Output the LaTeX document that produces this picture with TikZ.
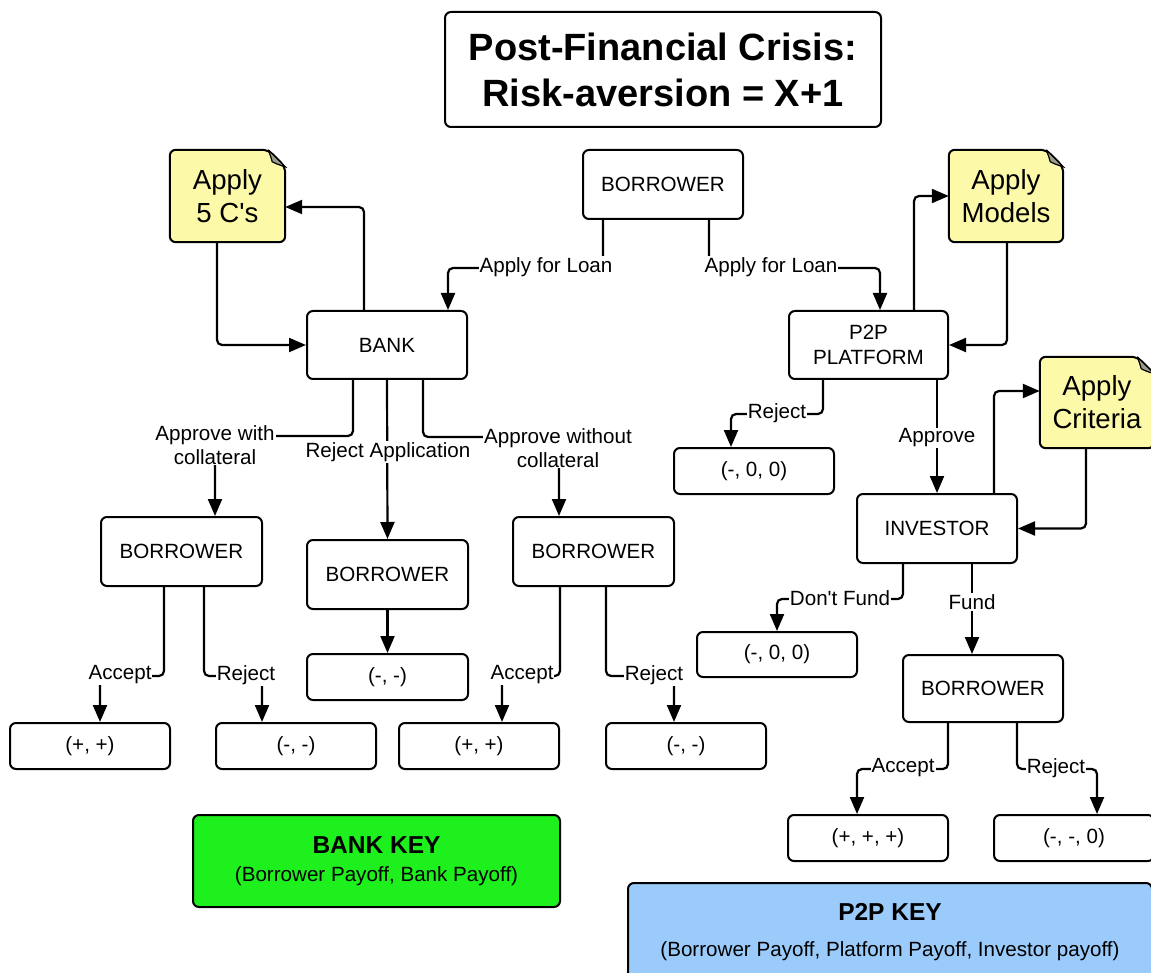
\documentclass[tikz,border=0pt]{standalone}
\usepackage{fontspec}
\setmainfont{Liberation Sans}
\usetikzlibrary{arrows.meta,backgrounds}

\definecolor{noteyellow}{HTML}{FCF9A8}
\definecolor{foldgray}{HTML}{9C9C8C}
\definecolor{keygreen}{HTML}{1EF01E}
\definecolor{keyblue}{HTML}{9BCBFA}

\newcommand\sq{\XeTeXglyph\XeTeXglyphindex "quotesingle"\relax}

\tikzset{
  base/.style={draw, line width=2pt, rounded corners=6pt, fill=white, align=center,
    inner sep=0pt, font=\fontsize{20.6}{24.5}\selectfont},
  boxL/.style={base, minimum width=160pt, minimum height=69pt},
  outc/.style={base, minimum width=160pt, minimum height=46pt},
  conn/.style={line width=2.2pt, rounded corners=5pt, -{Triangle[length=17pt,width=14pt]}},
  lbl/.style={fill=white, inner sep=1pt, align=center, font=\fontsize{20.6}{23.5}\selectfont},
  note/.style={minimum width=115pt, minimum height=92pt, inner sep=0pt, align=center,
    font=\fontsize{27.6}{33}\selectfont},
  notebody/.style={fill=noteyellow, line width=2pt, rounded corners=6pt},
  notefold/.style={fill=foldgray, line width=1.2pt},
}

\newcommand\drawnote[1]{%
  \filldraw[notebody] (#1.south west) -- (#1.north west) -- ([xshift=-17pt]#1.north east)
    -- ([yshift=-17pt]#1.north east) -- (#1.south east) -- cycle;
  \filldraw[notefold] ([xshift=-17pt]#1.north east) -- ([yshift=-17pt]#1.north east)
    .. controls ([xshift=-9pt,yshift=-14pt]#1.north east) .. ([xshift=-13pt,yshift=-12pt]#1.north east)
    .. controls ([xshift=-14pt,yshift=-8pt]#1.north east) .. ([xshift=-17pt]#1.north east);
}

\begin{document}
\begin{tikzpicture}[x=1pt,y=-1pt]
\useasboundingbox (0,0) rectangle (1151,973);

% title
\node[base, minimum width=436pt, minimum height=115pt,
  font=\fontsize{38}{46}\selectfont\bfseries] (title) at (663,69.5)
  {Post-Financial Crisis:\\Risk-aversion = X+1};

% main nodes
\node[boxL] (top) at (663,184.5) {BORROWER};
\node[boxL, minimum height=68pt] (bank) at (387,345) {BANK};
\node[boxL, minimum width=159pt, minimum height=68pt] (p2p) at (868.5,345) {P2P\\PLATFORM};

\node[note] (c5) at (227.5,196) {Apply\\5 C\sq s};
\node[note, minimum width=114pt] (models) at (1006,196) {Apply\\Models};
\node[note, minimum width=114pt, minimum height=91pt] (crit) at (1097,402.5) {Apply\\Criteria};
\begin{scope}[on background layer]
  \drawnote{c5}
  \drawnote{models}
  \drawnote{crit}
\end{scope}

\node[boxL, minimum width=161pt] (b1) at (181.5,551.5) {BORROWER};
\node[boxL, minimum width=161pt] (b2) at (387.5,574.5) {BORROWER};
\node[boxL, minimum width=161pt] (b3) at (593.5,551.5) {BORROWER};

\node[outc] (o1) at (90,746) {(+, +)};
\node[outc] (o2) at (296,746) {(-, -)};
\node[outc, minimum width=161pt] (o3) at (387.5,677) {(-, -)};
\node[outc] (o4) at (479,746) {(+, +)};
\node[outc] (o5) at (686,746) {(-, -)};

\node[outc] (pr) at (754,471) {(-, 0, 0)};
\node[boxL] (inv) at (937,528.5) {INVESTOR};
\node[outc, minimum height=45pt] (dn) at (777,654.5) {(-, 0, 0)};
\node[boxL, minimum height=67pt] (b4) at (983,688.5) {BORROWER};
\node[outc] (o6) at (868,838) {(+, +, +)};
\node[outc] (o7) at (1074,838) {(-, -, 0)};

% keys
\node[base, fill=keygreen, minimum width=367pt, minimum height=92pt] (bkey) at (376.5,861)
  {{\fontsize{24.5}{29}\selectfont\bfseries BANK KEY}\\[4pt](Borrower Payoff, Bank Payoff)};
\node[base, fill=keyblue, minimum width=524pt, minimum height=98pt] (pkey) at (890,932)
  {{\fontsize{24.5}{29}\selectfont\bfseries P2P KEY}\\[11pt](Borrower Payoff, Platform Payoff, Investor payoff)};

% connectors: borrower to bank / platform
\draw[conn] ([xshift=-60pt]top.south) -- ++(0,48) -| ([xshift=61pt]bank.north);
\node[lbl] at (546,267) {Apply for Loan};
\draw[conn] ([xshift=46pt]top.south) -- ++(0,48) -| ([xshift=11.5pt]p2p.north);
\node[lbl] at (771,267) {Apply for Loan};

% 5 C's loop
\draw[conn] ([xshift=-23pt]bank.north) |- ([yshift=-11pt]c5.east);
\draw[conn] ([xshift=-10.5pt]c5.south) |- (bank.west);

% Models loop
\draw[conn] ([xshift=45.5pt]p2p.north) |- (models.west);
\draw[conn] ([xshift=1pt]models.south) |- (p2p.east);

% bank branches
\draw[conn] ([xshift=-34pt]bank.south) -- ++(0,56) -| ([xshift=33.5pt]b1.north);
\node[lbl] at (215,445) {Approve with\\collateral};
\draw[conn] (bank.south) -- (b2.north);
\node[lbl] at (388,452) {Reject Application};
\draw[conn] ([xshift=36pt]bank.south) -- ++(0,57) -| ([xshift=-34.5pt]b3.north);
\node[lbl] at (558,448) {Approve without\\collateral};

% borrower 1
\draw[conn] ([xshift=-17.5pt]b1.south) -- ++(0,89) -| ([xshift=10pt]o1.north);
\node[lbl] at (120,675) {Accept};
\draw[conn] ([xshift=22.5pt]b1.south) -- ++(0,89) -| ([xshift=-34pt]o2.north);
\node[lbl] at (246,675) {Reject};

% borrower 2
\draw[conn] (b2.south) -- (o3.north);

% borrower 3
\draw[conn] ([xshift=-33.5pt]b3.south) -- ++(0,89) -| ([xshift=23pt]o4.north);
\node[lbl] at (522,675) {Accept};
\draw[conn] ([xshift=12.5pt]b3.south) -- ++(0,89) -| ([xshift=-12pt]o5.north);
\node[lbl] at (654,675) {Reject};

% platform branches
\draw[conn] ([xshift=-45.5pt]p2p.south) -- ++(0,34) -| ([xshift=-23pt]pr.north);
\node[lbl] at (777,413) {Reject};
\draw[conn] ([xshift=68.5pt]p2p.south) -- (inv.north);
\node[lbl] at (937,438) {Approve};

% criteria loop
\draw[conn] ([xshift=57pt]inv.north) |- ([yshift=11.5pt]crit.west);
\draw[conn] ([xshift=-11pt]crit.south) |- (inv.east);

% investor branches
\draw[conn] ([xshift=-34pt]inv.south) -- ++(0,35) -| (dn.north);
\node[lbl] at (840,598) {Don\sq t Fund};
\draw[conn] ([xshift=35pt]inv.south) -- ([xshift=-11pt]b4.north);
\node[lbl] at (972,602) {Fund};

% borrower 4
\draw[conn] ([xshift=-35pt]b4.south) -- ++(0,46) -| ([xshift=-11pt]o6.north);
\node[lbl] at (903,768) {Accept};
\draw[conn] ([xshift=34pt]b4.south) -- ++(0,46) -| ([xshift=23pt]o7.north);
\node[lbl] at (1056,768) {Reject};
\end{tikzpicture}
\end{document}
